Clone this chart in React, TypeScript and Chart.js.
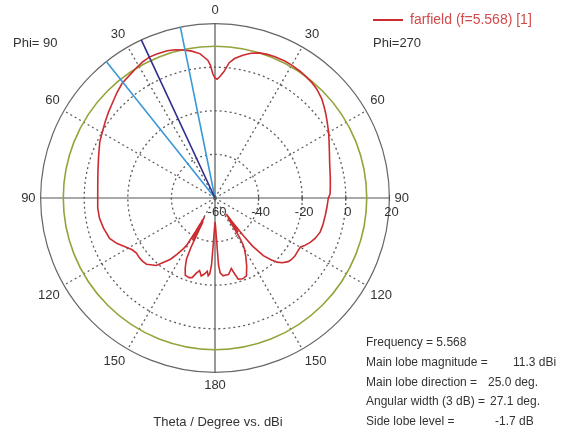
import { useEffect, useRef } from 'react';
import { Chart, registerables } from 'chart.js';

Chart.register(...registerables);

// ---- data ----
const thetaTickLabels = ['0', '30', '60', '90', '120', '150', '180', '150', '120', '90', '60', '30'];
const radialTicks = [-60, -40, -20, 0, 20];

// Phi = 270 half (drawn on the right side), theta in degrees, gain in dBi
const phi270Theta = [0, 1, 2, 4, 6, 8, 11, 14, 17, 20, 23, 27, 30, 34, 37, 40, 43, 47, 50, 53, 56, 60, 63, 68, 73, 80, 85, 88, 90, 95, 99, 104, 108, 112, 115, 118, 120, 123, 126, 129, 131, 134, 136, 138, 140, 142, 143, 144, 145, 146, 147, 148, 149, 150, 152, 155, 158, 161, 164, 166, 167, 168, 170, 172, 174, 176, 177, 178, 179, 180];
const phi270Gain = [-5.0, -5.5, -4.6, -2.0, 2.4, 4.6, 6.7, 8.4, 9.6, 10.1, 10.4, 10.5, 10.4, 10.0, 9.6, 9.1, 8.4, 6.9, 5.3, 3.7, 2.1, 0.2, -1.3, -3.4, -5.0, -6.3, -6.9, -7.2, -8.0, -8.5, -8.8, -9.0, -9.3, -10.5, -11.8, -13.5, -14.8, -14.9, -14.7, -15.0, -15.5, -17.2, -19.1, -22.0, -25.5, -32.0, -38.0, -46.0, -51.0, -41.0, -49.0, -39.0, -35.0, -33.0, -30.0, -25.6, -21.5, -20.8, -21.3, -25.0, -26.8, -26.0, -24.3, -24.3, -24.1, -25.5, -29.0, -42.0, -47.0, -49.0];

// Phi = 90 half (drawn on the left side)
const phi90Theta = [1, 2, 3, 6, 9, 12, 15, 18, 22, 25, 28, 31, 34, 39, 43, 47, 51, 55, 60, 64, 70, 76, 82, 89, 95, 100, 105, 111, 115, 119, 122, 125, 128, 131, 134, 137, 139, 141, 144, 146, 148, 149, 150, 151, 152, 153, 154, 155, 157, 159, 162, 164, 166, 168, 170, 172, 174, 175, 176, 177, 178, 179];
const phi90Gain = [-3.0, 1.0, 3.3, 6.6, 8.2, 9.4, 10.4, 11.0, 11.2, 11.3, 10.7, 9.8, 8.8, 7.7, 6.0, 4.2, 2.8, 1.4, -0.2, -1.2, -3.2, -4.7, -5.7, -6.2, -6.0, -6.2, -7.0, -8.2, -10.5, -13.5, -15.2, -16.0, -15.8, -15.9, -16.3, -18.0, -19.0, -21.8, -25.3, -29.0, -32.5, -34.5, -42.0, -50.0, -38.0, -48.0, -35.0, -29.0, -25.0, -22.0, -21.6, -22.0, -24.5, -26.0, -23.7, -24.8, -26.2, -24.2, -25.0, -29.0, -40.0, -46.0];

const mainLobeDirection = 25.0; // deg, on the Phi=90 side
const angularWidth = 27.1; // deg (3 dB)
const referenceLevel = 9.6; // green reference circle, dBi

const seriesLabel = 'farfield (f=5.568) [1]';
const infoLabels = ['Frequency = 5.568', 'Main lobe magnitude =', 'Main lobe direction =', 'Angular width (3 dB) =', 'Side lobe level ='];
const infoValues = ['', '11.3 dBi', '25.0 deg.', '27.1 deg.', '-1.7 dB'];

// ---- styling ----
const FONT = '"Liberation Sans", Arial, sans-serif';
const RED = '#cc2b2f';
const GREEN = '#95a33a';
const NAVY = '#2e2c8c';
const LIGHTBLUE = '#3b98d8';
const TEXT = '#333333';
const DOT = '#5c5c5c';
const STEPS = 360;

const labels: string[] = [];
for (let i = 0; i < STEPS; i++) labels.push(i % 30 === 0 ? thetaTickLabels[i / 30] : '');

const curve: (number | null)[] = new Array(STEPS).fill(null);
phi270Theta.forEach((t, i) => { curve[t % STEPS] = phi270Gain[i]; });
phi90Theta.forEach((t, i) => { curve[(STEPS - t) % STEPS] = phi90Gain[i]; });

const overlay = {
  id: 'overlay',
  beforeDatasetsDraw(chart: any) {
    const s = chart.scales.r;
    const ctx = chart.ctx;
    ctx.save();
    ctx.strokeStyle = GREEN;
    ctx.lineWidth = 1.6;
    ctx.beginPath();
    ctx.arc(s.xCenter, s.yCenter, s.getDistanceFromCenterForValue(referenceLevel), 0, Math.PI * 2);
    ctx.stroke();
    ctx.restore();
  },
  afterDatasetsDraw(chart: any) {
    const s = chart.scales.r;
    const ctx = chart.ctx;
    const outer = s.getDistanceFromCenterForValue(radialTicks[radialTicks.length - 1]);
    const dirs = [
      { t: mainLobeDirection - angularWidth / 2, c: LIGHTBLUE },
      { t: mainLobeDirection + angularWidth / 2, c: LIGHTBLUE },
      { t: mainLobeDirection, c: NAVY },
    ];
    ctx.save();
    ctx.lineWidth = 1.6;
    dirs.forEach((d) => {
      const p = s.getPointPosition(((360 - d.t) / 360) * STEPS, outer);
      ctx.strokeStyle = d.c;
      ctx.beginPath();
      ctx.moveTo(s.xCenter, s.yCenter);
      ctx.lineTo(p.x, p.y);
      ctx.stroke();
    });
    ctx.restore();
  },
  afterDraw(chart: any) {
    const s = chart.scales.r;
    const ctx = chart.ctx;
    ctx.save();
    ctx.font = `13px ${FONT}`;
    ctx.fillStyle = TEXT;
    // radial tick labels along the 90-degree axis
    ctx.textAlign = 'center';
    ctx.textBaseline = 'middle';
    ctx.strokeStyle = '#555';
    ctx.lineWidth = 1;
    radialTicks.forEach((v) => {
      const x = s.xCenter + s.getDistanceFromCenterForValue(v);
      ctx.fillText(String(v), x + 2, s.yCenter + 14);
      ctx.beginPath();
      ctx.moveTo(x, s.yCenter - 3);
      ctx.lineTo(x, s.yCenter + 3);
      ctx.stroke();
    });
    // phi labels
    ctx.textAlign = 'left';
    ctx.fillText('Phi= 90', 13, 43);
    ctx.fillText('Phi=270', 373, 43);
    // legend
    ctx.strokeStyle = RED;
    ctx.lineWidth = 2;
    ctx.beginPath();
    ctx.moveTo(373, 20);
    ctx.lineTo(403, 20);
    ctx.stroke();
    ctx.fillStyle = '#d24a4a';
    ctx.font = `14px ${FONT}`;
    ctx.fillText(seriesLabel, 410, 20);
    ctx.font = `13px ${FONT}`;
    // axis title
    ctx.fillStyle = TEXT;
    ctx.textAlign = 'center';
    ctx.fillText('Theta / Degree vs. dBi', 218, 422);
    // info block
    ctx.textAlign = 'left';
    ctx.font = `12px ${FONT}`;
    const ys = [343, 363, 383, 402, 422];
    const vx = [0, 513, 488, 490, 495];
    infoLabels.forEach((l, i) => {
      ctx.fillText(l, 366, ys[i]);
      if (infoValues[i]) ctx.fillText(infoValues[i], vx[i], ys[i]);
    });
    ctx.restore();
  },
};

export default function App() {
  const ref = useRef<HTMLCanvasElement | null>(null);
  useEffect(() => {
    if (!ref.current) return;
    Chart.defaults.font.family = FONT;
    const chart = new Chart(ref.current, {
      type: 'radar',
      data: {
        labels,
        datasets: [
          {
            label: seriesLabel,
            data: curve as any,
            borderColor: RED,
            backgroundColor: 'transparent',
            borderWidth: 1.6,
            pointRadius: 0,
            pointHoverRadius: 0,
            fill: false,
            spanGaps: true,
            tension: 0,
          },
        ],
      },
      options: {
        animation: false,
        responsive: true,
        maintainAspectRatio: false,
        layout: { padding: { left: 0, right: 138, top: 4, bottom: 39 } },
        plugins: { legend: { display: false }, tooltip: { enabled: false } },
        scales: {
          r: {
            min: -60,
            max: 20,
            startAngle: 0,
            ticks: { display: false, stepSize: 20 },
            grid: {
              circular: true,
              color: (c: any) => (c.tick && c.tick.value === 20 ? '#666666' : DOT),
              lineWidth: (c: any) => (c.tick && c.tick.value === 20 ? 1.2 : 1.3),
            },
            border: { dash: (c: any) => (c.tick && c.tick.value === 20 ? [] : [2, 3]) } as any,
            angleLines: {
              color: (c: any) => (c.index % 90 === 0 ? '#555555' : DOT),
              lineWidth: (c: any) => (c.index % 90 === 0 ? 1.2 : c.index % 30 === 0 ? 1.3 : 0),
              borderDash: (c: any) => (c.index % 90 === 0 ? [] : [2, 3]),
            } as any,
            pointLabels: { color: TEXT, font: { family: FONT, size: 13 }, padding: 5 },
          },
        },
      },
      plugins: [overlay],
    });
    return () => chart.destroy();
  }, []);
  return (
    <div style={{ position: 'absolute', left: 0, top: 0, width: 568, height: 433, background: '#fff' }}>
      <canvas ref={ref} />
    </div>
  );
}
